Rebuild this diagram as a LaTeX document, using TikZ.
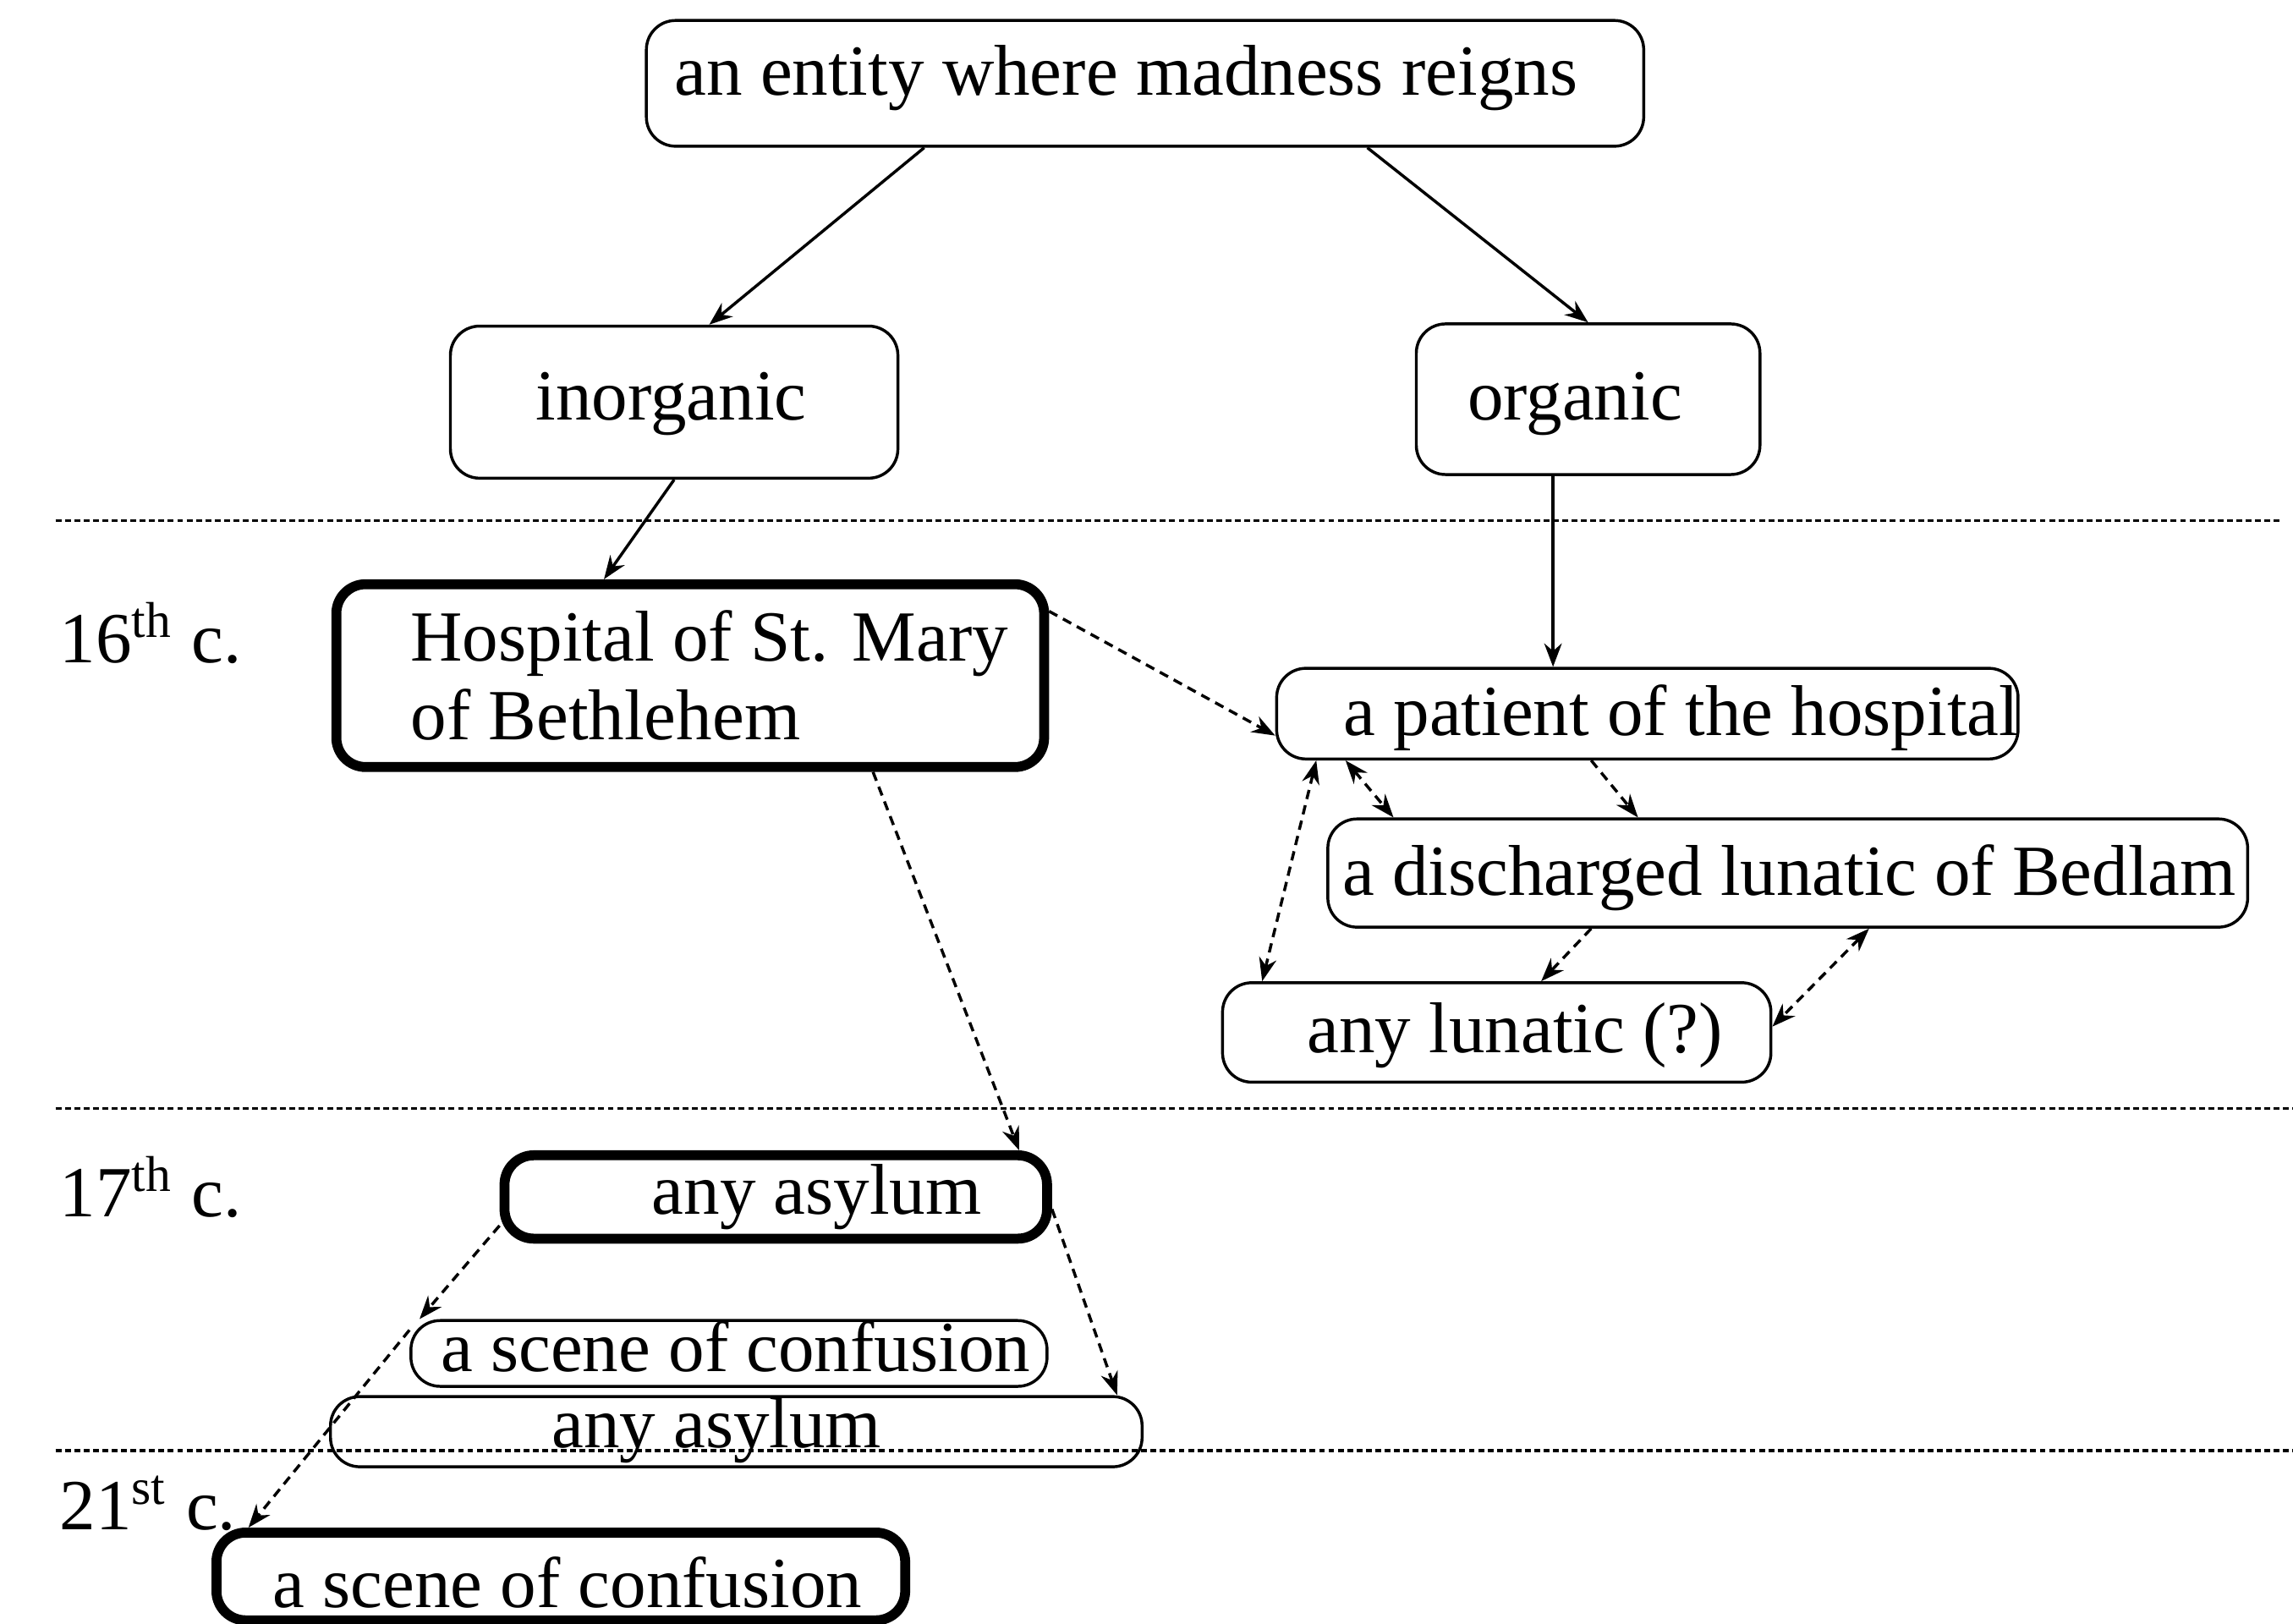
\documentclass[tikz,border=0pt]{standalone}
\usepackage{fontspec}
\setmainfont{Liberation Serif}
\usetikzlibrary{arrows.meta}
\begin{document}
\begin{tikzpicture}[x=0.25pt,y=-0.25pt,
  box/.style={draw, line width=0.5pt, rounded corners=5pt, inner sep=0pt},
  bigbox/.style={draw, line width=1.7pt, rounded corners=5pt, inner sep=0pt},
  lbl/.style={inner sep=0pt, font=\fontsize{12.3}{14}\selectfont},
  arr/.style={line width=0.5pt, -{Stealth[length=4pt,width=3pt]}},
  darr/.style={arr, dash pattern=on 1.6pt off 1.1pt},
  dbarr/.style={darr, {Stealth[length=4pt,width=3pt]}-{Stealth[length=4pt,width=3pt]}},
  sepline/.style={line width=0.5pt, dash pattern=on 1pt off 0.6pt}
]
\useasboundingbox (0,0) rectangle (1568,1110);
\fill[white] (0,0) rectangle (1568,1110);

% separator lines
\draw[sepline] (38,356) -- (1560,356);
\draw[sepline] (38,758) -- (1568,758);
\draw[sepline] (38,992) -- (1568,992);

% boxes
\node[box, minimum width=170.5pt, minimum height=21.5pt] (top) at (783,57) {};
\node[box, minimum width=76.5pt, minimum height=26pt] (inorg) at (461,275) {};
\node[box, minimum width=58.75pt, minimum height=25.75pt] (org) at (1086,273) {};
\node[bigbox, minimum width=121pt, minimum height=31.25pt] (hosp) at (472,462) {};
\node[box, minimum width=126.75pt, minimum height=15.5pt] (patient) at (1126.5,488) {};
\node[box, minimum width=157.25pt, minimum height=18.5pt] (disch) at (1222.5,597) {};
\node[box, minimum width=93.75pt, minimum height=17pt] (anylun) at (1023.5,706) {};
\node[bigbox, minimum width=92.75pt, minimum height=14.25pt] (asyA) at (530.5,818.5) {};
\node[box, minimum width=108.75pt, minimum height=11.25pt] (sceneA) at (498.5,925.5) {};
\node[box, minimum width=138.75pt, minimum height=12pt] (asyB) at (503.5,979) {};
\node[bigbox, minimum width=117.75pt, minimum height=15pt] (sceneB) at (383.5,1078) {};

% texts
\node[lbl, anchor=base] (topT) at (770,65) {an entity where madness reigns};
\node[lbl, anchor=base] (inorgT) at (459,287) {inorganic};
\node[lbl, anchor=base] (orgT) at (1077,287) {organic};
\node[lbl, anchor=base west] (hospT1) at (280,452) {Hospital of St. Mary};
\node[lbl, anchor=base west] (hospT2) at (280,506) {of Bethlehem};
\node[lbl, anchor=base west] (patientT) at (918,503) {a patient of the hospital};
\node[lbl, anchor=base] (dischT) at (1223.5,612.5) {a discharged lunatic of Bedlam};
\node[lbl, anchor=base] (anylunT) at (1036,720) {any lunatic (?)};
\node[lbl, anchor=base] (asyAT) at (558.5,830) {any asylum};
\node[lbl, anchor=base] (sceneAT) at (503,938) {a scene of confusion};
\node[lbl, anchor=base] (asyBT) at (490,990) {any asylum};
\node[lbl, anchor=base] (sceneBT) at (388,1099) {a scene of confusion};

\node[lbl, anchor=base west] (c16) at (40,453) {16\textsuperscript{th} c.};
\node[lbl, anchor=base west] (c17) at (40,832) {17\textsuperscript{th} c.};
\node[lbl, anchor=base west] (c21) at (40,1046) {21\textsuperscript{st} c.};

% solid arrows
\draw[arr] ([xshift=-37.75pt]top.south) -- ([xshift=6pt]inorg.north);
\draw[arr] ([xshift=38pt]top.south) -- (org.north);
\draw[arr] (inorg.south) -- ([xshift=-14.75pt]hosp.north);
\draw[arr] ([xshift=-6pt]org.south) -- ([xshift=-6pt]org.south |- patient.north);

% dashed arrows
\draw[darr] ([yshift=11pt]hosp.east) -- ([yshift=-3.75pt]patient.west);
\draw[darr] ([xshift=31.25pt]hosp.south) -- ([xshift=41.6pt]asyA.north);
\draw[darr] ([xshift=-9.6pt]patient.south) -- ([xshift=-25.6pt]disch.north);
\draw[dbarr] ([xshift=-51.6pt]patient.south) -- ([xshift=-67.4pt]disch.north);
\draw[dbarr] ([xshift=-56.6pt]patient.south) -- ([xshift=-40.1pt]anylun.north);
\draw[darr] ([xshift=-33.6pt]disch.south) -- ([xshift=7.6pt]anylun.north);
\draw[dbarr] ([xshift=13.9pt]disch.south) -- ([yshift=1pt]anylun.east);
\draw[darr] ([yshift=-4.9pt]asyA.west) -- ([xshift=-52.9pt]sceneA.north);
\draw[darr] ([yshift=-2.1pt]asyA.east) -- ([xshift=65.1pt]asyB.north);
\draw[darr] ([yshift=4pt]sceneA.west) -- ([xshift=-53.4pt]sceneB.north);
\end{tikzpicture}
\end{document}
